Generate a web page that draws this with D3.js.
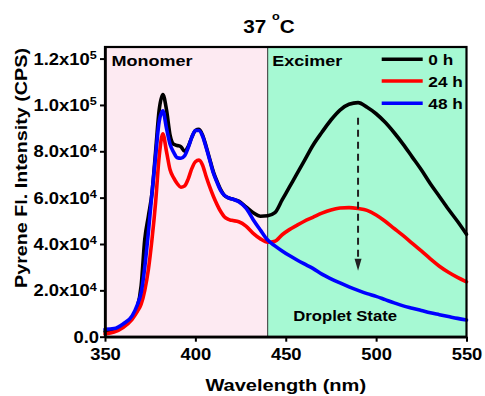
<!DOCTYPE html>
<html>
<head>
<meta charset="utf-8">
<script src="https://cdn.jsdelivr.net/npm/d3@7"></script>
<style>
  body { margin: 0; background: #ffffff; }
  svg { display: block; }
  text { font-family: "Liberation Sans", Arial, sans-serif; font-weight: bold; fill: #000; }
</style>
</head>
<body>
<svg id="chart" width="485" height="396"></svg>
<script>
// Emission wavelength grid (nm)
const wavelength = [
  350, 355, 360, 365, 368, 370, 372, 374, 376, 378,
  380, 382, 384, 386, 388, 390, 392, 394, 396, 398,
  400, 402, 404, 406, 408, 410, 412, 414, 416, 418,
  420, 424, 428, 432, 436, 440, 444, 448, 452, 456,
  460, 465, 470, 475, 480, 485, 490, 495, 500, 505,
  510, 515, 520, 525, 530, 535, 540, 545, 550
];

// Pyrene fluorescence intensity (CPS) after 0 h
const int0h = [
  2200, 3000, 5000, 8500, 13000, 22000, 42000, 52000, 62000, 80000,
  98000, 104500, 98000, 87000, 83000, 82500, 82000, 80000, 82000, 86000,
  89000, 89500, 87000, 82000, 76500, 71000, 67000, 63500, 61000, 60000,
  59500, 58500, 56000, 53500, 52000, 52200, 53500, 59000, 64500, 70000,
  75500, 82500, 88200, 93500, 97800, 100300, 101000, 99000, 96200, 92500,
  88000, 83000, 77500, 72000, 66000, 60500, 55000, 49800, 44200
];

// after 24 h
const int24h = [
  1200, 2000, 4000, 7500, 11000, 14000, 20000, 29000, 42000, 58000,
  78000, 87500, 80000, 72000, 68500, 66000, 64500, 65000, 68000, 72500,
  75500, 76200, 74000, 69000, 64500, 60500, 57000, 54000, 51800, 50700,
  50200, 49600, 47700, 44600, 42200, 40800, 41200, 44000, 46200, 48000,
  49700, 51500, 53300, 54700, 55500, 55700, 55300, 54500, 52500, 49800,
  46700, 43600, 40300, 37000, 33600, 30400, 27800, 25600, 23700
];

// after 48 h
const int48h = [
  3200, 3500, 5500, 9000, 14000, 19000, 30000, 45000, 62000, 78000,
  93000, 97500, 90000, 83000, 79500, 77200, 77000, 78000, 81500, 86000,
  89000, 89000, 86500, 81500, 76000, 70500, 66500, 63000, 61000, 60000,
  59500, 58200, 55500, 50500, 46000, 41700, 39200, 37000, 35000, 33200,
  31500, 29500, 27000, 25000, 23200, 21500, 20000, 18600, 17400, 16000,
  14600, 13300, 12300, 11300, 10300, 9500, 8700, 7900, 7200
];

const seriesNames = ["0 h", "24 h", "48 h"];
const seriesColors = ["#000000", "#ff0000", "#0000ff"];

const xTicks = [350, 400, 450, 500, 550];
const yTicks = [0, 20000, 40000, 60000, 80000, 100000, 120000];
const yTickMantissa = ["0.0", "2.0", "4.0", "6.0", "8.0", "1.0", "1.2"];
const yTickExponent = ["", "4", "4", "4", "4", "5", "5"];

// Spectral regions: monomer band and excimer band
const regionEdges = [350, 440, 550];
const regionNames = ["Monomer", "Excimer"];
const regionFills = ["#fdeaf2", "#a6f9d3"];

// Excimer peak decrease annotation
const arrowWavelength = 490;
const arrowFrom = 94500;
const arrowTo = 28500;

// ---------------------------------------------------------------
const svg = d3.select("#chart");
const plotLeft = 105, plotRight = 466.5, plotTop = 47, plotBottom = 336.7;
const SX = 1.15; // horizontal stretch of the bold lettering

const x = d3.scaleLinear().domain([350, 550]).range([plotLeft, plotRight]);
const y = d3.scaleLinear().domain([0, 125000]).range([plotBottom, plotTop]);

// write text whose glyphs are widened horizontally; parts may carry size / dy for superscripts
function stretchedText(parent, px, py, size, sx, parts, anchor, rotate) {
  const t = parent.append("text")
    .attr("transform", `translate(${px},${py})${rotate ? ` rotate(${rotate})` : ""} scale(${sx},1)`)
    .attr("font-size", size)
    .attr("text-anchor", anchor || "start");
  parts.forEach(p => {
    const s = t.append("tspan").text(p.text);
    if (p.size) s.attr("font-size", p.size);
    if (p.dy) s.attr("dy", p.dy);
  });
  return t;
}

// region backgrounds
const regions = regionNames.map((name, i) => ({ name, x0: regionEdges[i], x1: regionEdges[i + 1], fill: regionFills[i] }));
svg.append("g").selectAll("rect").data(regions).join("rect")
  .attr("x", d => x(d.x0)).attr("y", plotTop)
  .attr("width", d => x(d.x1) - x(d.x0)).attr("height", plotBottom - plotTop)
  .attr("fill", d => d.fill);

// region divider
svg.append("line")
  .attr("x1", x(regionEdges[1])).attr("x2", x(regionEdges[1]))
  .attr("y1", plotTop).attr("y2", plotBottom)
  .attr("stroke", "#333").attr("stroke-width", 1);

// spectra
const series = [int0h, int24h, int48h].map((vals, i) => ({
  name: seriesNames[i], color: seriesColors[i],
  points: wavelength.map((w, j) => [w, vals[j]])
}));
const line = d3.line().x(d => x(d[0])).y(d => y(d[1])).curve(d3.curveMonotoneX);
svg.append("g").selectAll("path").data(series).join("path")
  .attr("d", d => line(d.points))
  .attr("fill", "none")
  .attr("stroke", d => d.color)
  .attr("stroke-width", 3.6)
  .attr("stroke-linejoin", "round")
  .attr("stroke-linecap", "round");

// dashed arrow showing the excimer decrease
const ax = x(arrowWavelength);
svg.append("line")
  .attr("x1", ax).attr("x2", ax)
  .attr("y1", y(arrowFrom)).attr("y2", y(arrowTo) - 10)
  .attr("stroke", "#222").attr("stroke-width", 2)
  .attr("stroke-dasharray", "7,5");
svg.append("path")
  .attr("d", `M${ax - 3.5},${y(arrowTo) - 12} L${ax + 3.5},${y(arrowTo) - 12} L${ax},${y(arrowTo)} Z`)
  .attr("fill", "#222");

// frame
svg.append("rect")
  .attr("x", plotLeft).attr("y", plotTop)
  .attr("width", plotRight - plotLeft).attr("height", plotBottom - plotTop)
  .attr("fill", "none").attr("stroke", "#000").attr("stroke-width", 2.2);

// axes
const gx = svg.append("g").attr("transform", `translate(0,${plotBottom})`)
  .call(d3.axisBottom(x).tickValues(xTicks).tickSizeInner(5).tickSizeOuter(0).tickPadding(7.4).tickFormat(d3.format("d")));
gx.attr("font-size", 16).attr("font-family", null);
gx.select(".domain").attr("stroke-width", 2.6);
gx.selectAll(".tick line").attr("stroke-width", 2);
gx.selectAll(".tick text").attr("transform", `scale(${SX},1)`);

const gy = svg.append("g").attr("transform", `translate(${plotLeft},0)`)
  .call(d3.axisLeft(y).tickValues(yTicks).tickSizeInner(5).tickSizeOuter(0).tickPadding(3.3).tickFormat(""));
gy.attr("font-size", 16).attr("font-family", null);
gy.select(".domain").attr("stroke-width", 2.6);
gy.selectAll(".tick line").attr("stroke-width", 2);
gy.selectAll(".tick text").each(function (d, i) {
  const t = d3.select(this);
  const exp = yTickExponent[i];
  t.text(null)
    .attr("transform", `scale(${SX},1)`)
    .attr("x", exp ? -8.3 / SX : -6 / SX)
    .attr("dy", "0.34em");
  t.append("tspan").text(yTickMantissa[i] + (exp ? "x10" : ""));
  if (exp) t.append("tspan").attr("font-size", 11).attr("dy", -5.6).text(exp);
});

// axis titles
stretchedText(svg, (plotLeft + plotRight) / 2, 391, 17, 1.18, [{ text: "Wavelength (nm)" }], "middle");
stretchedText(svg, 26.5, 168, 17, 1.16, [{ text: "Pyrene Fl. Intensity (CPS)" }], "middle", -90);

// chart title
stretchedText(svg, 243.3, 33.3, 18, SX, [
  { text: "37 " }, { text: "o", size: 11, dy: -13 }, { text: "C", dy: 13 }
], "start");

// region labels
stretchedText(svg, x(regionEdges[0]) + 6.5, 66, 15, 1.2, [{ text: regionNames[0] }], "start");
stretchedText(svg, x(regionEdges[1]) + 4.5, 66, 15, 1.2, [{ text: regionNames[1] }], "start");

// state annotation
stretchedText(svg, 293.3, 321, 14.5, SX, [{ text: "Droplet State" }], "start");

// legend
const legend = svg.append("g");
const legendRows = [59.3, 81, 103.3];
series.forEach((s, i) => {
  legend.append("line")
    .attr("x1", 381.7).attr("x2", 422.7)
    .attr("y1", legendRows[i]).attr("y2", legendRows[i])
    .attr("stroke", s.color).attr("stroke-width", 3.4);
  stretchedText(legend, 428.3, legendRows[i] + 5.7, 15, SX, [{ text: s.name }], "start");
});
</script>
</body>
</html>
